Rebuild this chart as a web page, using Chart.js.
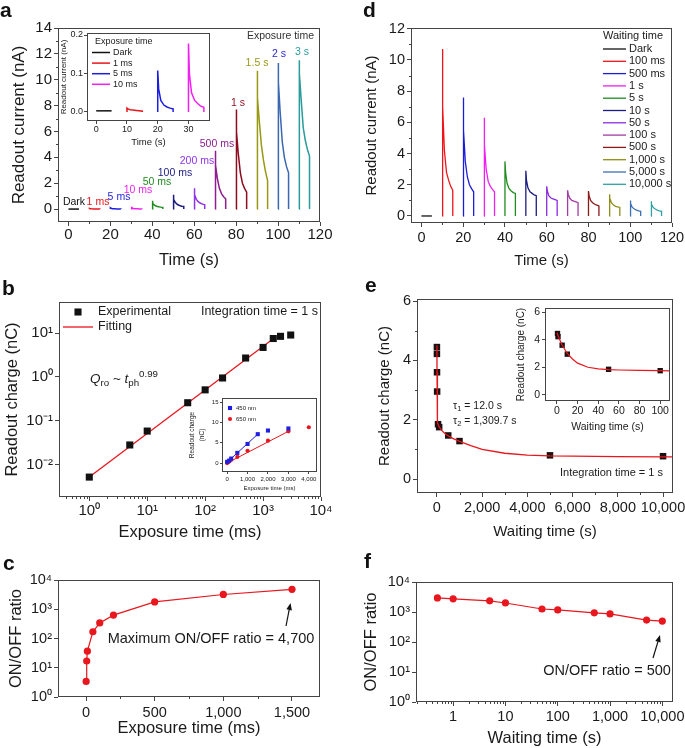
<!DOCTYPE html>
<html>
<head>
<meta charset="utf-8">
<title>Readout current, readout charge and ON/OFF ratio</title>
<script src="https://cdn.jsdelivr.net/npm/chart.js@4.4.1/dist/chart.umd.min.js"></script>
<style>
  html, body { margin: 0; padding: 0; background: #fff; }
  body { position: relative; width: 685px; height: 748px; overflow: hidden; font-family: 'Liberation Sans', Arial, sans-serif; }
  canvas { position: absolute; }
  .tag { position: absolute; z-index: 5; font-weight: bold; font-size: 21px; line-height: 21px; color: #111; }
</style>
</head>
<body>
<canvas id="chartA"></canvas>
<canvas id="chartD"></canvas>
<canvas id="chartB"></canvas>
<canvas id="chartE"></canvas>
<canvas id="chartC"></canvas>
<canvas id="chartF"></canvas>
<canvas id="insetA"></canvas>
<canvas id="insetB"></canvas>
<canvas id="insetE"></canvas>
<div class="tag" style="left:0px;top:-1px">a</div>
<div class="tag" style="left:363px;top:-1px">d</div>
<div class="tag" style="left:2px;top:277px">b</div>
<div class="tag" style="left:365px;top:274px">e</div>
<div class="tag" style="left:3px;top:552px">c</div>
<div class="tag" style="left:364px;top:550px">f</div>
<script>
const FONT = "'Liberation Sans', Arial, Helvetica, sans-serif";

// ---------- data ----------
// every current pulse is sampled at these times after its start (s)
const pulseT = [0, 0, 0.3, 1, 2, 3, 4, 5, 5];

// a: readout current (nA), different exposure times
const aNames = ['Dark', '1 ms', '5 ms', '10 ms', '50 ms', '100 ms', '200 ms', '500 ms', '1 s', '1.5 s', '2 s', '3 s'];
const aStart = [0, 10, 20, 30, 40, 50, 60, 70, 80, 90, 100, 110];
const aCurrent = [
  [0, 0, 0, 0, 0, 0, 0, 0, 0],
  [0, 0.05, 0.03, 0.02, 0.01, 0.01, 0.01, 0.01, 0],
  [0, 0.1, 0.06, 0.03, 0.02, 0.01, 0.01, 0.01, 0],
  [0, 0.18, 0.1, 0.05, 0.03, 0.02, 0.01, 0.01, 0],
  [0, 0.65, 0.45, 0.3, 0.22, 0.18, 0.15, 0.13, 0],
  [0, 1.1, 0.75, 0.5, 0.35, 0.28, 0.22, 0.2, 0],
  [0, 1.6, 1.1, 0.75, 0.55, 0.45, 0.38, 0.33, 0],
  [0, 4.5, 3.4, 2.4, 1.6, 1.2, 0.95, 0.8, 0],
  [0, 7.7, 6.0, 4.3, 2.8, 2.0, 1.6, 1.3, 0],
  [0, 10.7, 8.6, 6.9, 5.0, 3.8, 2.9, 2.2, 0],
  [0, 11.3, 9.8, 7.5, 5.2, 4.0, 3.3, 2.8, 0],
  [0, 11.5, 10.5, 8.5, 6.3, 5.3, 4.6, 4.1, 0]
];
const aXTicks = [0, 20, 40, 60, 80, 100, 120];
const aYTicks = [0, 2, 4, 6, 8, 10, 12, 14];

// a inset: the four weakest pulses
const aiNames = ['Dark', '1 ms', '5 ms', '10 ms'];
const aiStart = [0, 10, 20, 30];
const aiCurrent = [
  [0.003, 0.003, 0.003, 0.003, 0.003, 0.003, 0.003, 0.003, 0.003],
  [0, 0.01, 0.008, 0.006, 0.005, 0.004, 0.003, 0.002, 0],
  [0, 0.108, 0.06, 0.03, 0.018, 0.013, 0.01, 0.008, 0],
  [0, 0.178, 0.1, 0.05, 0.03, 0.022, 0.015, 0.012, 0]
];
const aiXTicks = [0, 10, 20, 30];
const aiYTicks = [0, 0.1, 0.2];
const aiYLabels = ['0.0', '0.1', '0.2'];

// d: readout current (nA), different waiting times
const dNames = ['Dark', '100 ms', '500 ms', '1 s', '5 s', '10 s', '50 s', '100 s', '500 s', '1,000 s', '5,000 s', '10,000 s'];
const dStart = [0, 10, 20, 30, 40, 50, 60, 70, 80, 90, 100, 110];
const dCurrent = [
  [0, 0, 0, 0, 0, 0, 0, 0, 0],
  [0, 10.7, 7.0, 4.2, 2.8, 2.3, 1.9, 1.65, 0],
  [0, 7.6, 5.5, 3.5, 2.5, 2.0, 1.75, 1.55, 0],
  [0, 6.3, 4.6, 3.0, 2.2, 1.9, 1.7, 1.55, 0],
  [0, 3.5, 2.8, 2.1, 1.75, 1.6, 1.5, 1.45, 0],
  [0, 2.9, 2.3, 1.8, 1.55, 1.45, 1.35, 1.3, 0],
  [0, 1.9, 1.6, 1.3, 1.15, 1.1, 1.05, 1.0, 0],
  [0, 1.65, 1.4, 1.15, 1.0, 0.95, 0.9, 0.85, 0],
  [0, 1.6, 1.3, 1.0, 0.85, 0.75, 0.7, 0.65, 0],
  [0, 1.4, 1.15, 0.85, 0.7, 0.62, 0.58, 0.55, 0],
  [0, 1.0, 0.8, 0.55, 0.45, 0.38, 0.33, 0.3, 0],
  [0, 0.95, 0.75, 0.55, 0.45, 0.37, 0.32, 0.3, 0]
];
const dYTicks = [0, 2, 4, 6, 8, 10, 12];

// b: readout charge (nC) vs exposure time (ms)
const bExposure = [1, 5, 10, 50, 100, 200, 500, 1000, 1500, 2000, 3000];
const bCharge = [0.0053, 0.0285, 0.059, 0.26, 0.51, 0.95, 2.7, 4.7, 7.5, 8.4, 9.0];
const bFitX = [1, 1500];
const bFitY = [0.0053, 7.4];
const bXTicks = [1, 10, 100, 1000, 10000];
const bXLabels = ['10⁰', '10¹', '10²', '10³', '10⁴'];
const bYTicks = [0.01, 0.1, 1, 10];
const bYLabels = ['10⁻²', '10⁻¹', '10⁰', '10¹'];

// b inset: two wavelengths
const b450X = [0, 100, 200, 500, 1000, 1500, 2000, 3000];
const b450Y = [0.3, 0.6, 1.1, 2.5, 4.7, 7.1, 8.0, 8.5];
const b450FitX = [0, 1500];
const b450FitY = [0.2, 7.1];
const b650X = [0, 50, 100, 200, 500, 1000, 2000, 3000, 4000];
const b650Y = [0, 0.2, 0.4, 0.8, 1.5, 3.0, 5.5, 7.8, 8.8];
const b650FitX = [0, 3000];
const b650FitY = [0, 7.8];
const biXTicks = [0, 1000, 2000, 3000, 4000];
const biXLabels = ['0', '1,000', '2,000', '3,000', '4,000'];
const biYTicks = [0, 5, 10, 15];

// e: readout charge (nC) vs waiting time (s)
const eWait = [0.5, 1, 5, 10, 50, 100, 500, 1000, 5000, 10000];
const eCharge = [4.45, 4.22, 3.6, 2.95, 1.85, 1.75, 1.47, 1.28, 0.8, 0.77];
const eFitX = [0, 5, 10, 20, 40, 70, 100, 200, 400, 700, 1000, 1500, 2000, 3000, 4000, 5000, 6000, 8000, 10000, 10500];
const eFitY = [4.5, 3.6, 3.0, 2.3, 1.9, 1.8, 1.76, 1.65, 1.5, 1.37, 1.27, 1.13, 1.0, 0.87, 0.81, 0.78, 0.77, 0.755, 0.75, 0.75];
const eXTicks = [0, 2000, 4000, 6000, 8000, 10000];
const eXLabels = ['0', '2,000', '4,000', '6,000', '8,000', '10,000'];
const eYTicks = [0, 2, 4, 6];
const eiWait = [0.5, 1, 5, 10, 50, 100];
const eiCharge = [4.45, 4.22, 3.6, 2.95, 1.85, 1.75];
const eiFitX = [0, 2, 5, 10, 15, 20, 30, 40, 50, 60, 80, 100, 110];
const eiFitY = [4.5, 4.1, 3.6, 3.0, 2.6, 2.3, 2.0, 1.88, 1.83, 1.8, 1.77, 1.75, 1.74];
const eiXTicks = [0, 20, 40, 60, 80, 100];

// c: ON/OFF ratio vs exposure time (ms)
const cExposure = [1, 5, 10, 50, 100, 200, 500, 1000, 1500];
const cRatio = [3.4, 17, 37, 170, 340, 630, 1780, 3200, 4800];
const cXTicks = [0, 500, 1000, 1500];
const cXLabels = ['0', '500', '1,000', '1,500'];
const ratioTicks = [1, 10, 100, 1000, 10000];
const ratioLabels = ['10⁰', '10¹', '10²', '10³', '10⁴'];

// f: ON/OFF ratio vs waiting time (s)
const fWait = [0.5, 1, 5, 10, 50, 100, 500, 1000, 5000, 10000];
const fRatio = [2950, 2750, 2350, 2000, 1260, 1170, 940, 860, 540, 500];
const fXTicks = [1, 10, 100, 1000, 10000];
const fXLabels = ['1', '10', '100', '1,000', '10,000'];

// ---------- styles ----------
const aColors = ['#111111', '#e8161b', '#1d1de0', '#f21ff2', '#1f8c1f', '#1b1b82', '#8f33e8', '#8e1d8e', '#8c0d1f', '#999914', '#3c68b2', '#2a9c9c'];
const dColors = ['#111111', '#f0141a', '#1d1dd8', '#f01ff0', '#1f8c1f', '#1b1b82', '#8a2be2', '#a23ca2', '#8c1a1a', '#8e8e14', '#3c70b2', '#2ea2a2'];
const RED = '#e8161d';

// ---------- helpers ----------
const xy = (xs, ys) => xs.map((x, i) => ({ x, y: ys[i] }));
const line = (label, xs, ys, color, w) => ({
  label, data: xy(xs, ys), showLine: true, borderColor: color, backgroundColor: color,
  borderWidth: w || 1.5, pointRadius: 0, tension: 0
});
const dots = (label, xs, ys, color, style, r) => ({
  label, data: xy(xs, ys), showLine: false, pointStyle: style, pointRadius: r,
  backgroundColor: color, borderColor: color, borderWidth: 0
});
const pulse = (label, start, vals, color, w) => line(label, pulseT.map(t => start + t), vals, color, w);

function logMinors(lo, hi) {
  const out = [];
  for (let e = -3; e <= 5; e++) for (let m = 2; m <= 9; m++) {
    const v = m * Math.pow(10, e);
    if (v > lo && v < hi) out.push(v);
  }
  return out;
}

function axis(o) {
  return {
    type: o.type || 'linear', min: o.min, max: o.max,
    afterBuildTicks: s => { s.ticks = o.ticks.map(v => ({ value: v })); },
    afterFit: s => { if (s.isHorizontal()) s.height = o.size; else s.width = o.size; },
    grid: { drawOnChartArea: false, drawTicks: true, tickLength: o.tl || 4, color: '#444', lineWidth: 1 },
    border: { display: false },
    ticks: {
      autoSkip: false, maxRotation: 0, padding: o.pad || 0, color: '#1a1a1a',
      font: { family: FONT, size: o.fs },
      callback: (v, i) => (o.labels ? o.labels[i] : String(o.ticks[i]))
    },
    title: {
      display: true, text: o.title, color: '#1a1a1a', padding: 0,
      font: { family: FONT, size: o.ts, lineHeight: o.lh || 1.2 }
    }
  };
}

function fontFor(kind, size) {
  const s = (kind === 'b' || kind === 'p') ? size * 0.72 : size;
  return (kind === 'i' ? 'italic ' : '') + s + 'px ' + FONT;
}
function drawRich(ctx, it) {
  const parts = it.parts || [[it.t, '']];
  let w = 0;
  parts.forEach(p => { ctx.font = fontFor(p[1], it.size); w += ctx.measureText(p[0]).width; });
  let x = it.x;
  if (it.align === 'center') x -= w / 2;
  else if (it.align === 'right') x -= w;
  ctx.fillStyle = it.color || '#1a1a1a';
  ctx.textBaseline = 'middle';
  ctx.textAlign = 'left';
  parts.forEach(p => {
    ctx.font = fontFor(p[1], it.size);
    const dy = p[1] === 'b' ? it.size * 0.32 : p[1] === 'p' ? -it.size * 0.38 : 0;
    ctx.fillText(p[0], x, it.y + dy);
    x += ctx.measureText(p[0]).width;
  });
}
function drawArrow(ctx, a) {
  const [x1, y1, x2, y2] = a;
  const ang = Math.atan2(y2 - y1, x2 - x1), hl = 7, hw = 2.8;
  const bx = x2 - hl * Math.cos(ang), by = y2 - hl * Math.sin(ang);
  ctx.strokeStyle = '#111'; ctx.fillStyle = '#111'; ctx.lineWidth = 1.2;
  ctx.beginPath(); ctx.moveTo(x1, y1); ctx.lineTo(bx, by); ctx.stroke();
  ctx.beginPath();
  ctx.moveTo(x2, y2);
  ctx.lineTo(bx + hw * Math.sin(ang), by - hw * Math.cos(ang));
  ctx.lineTo(bx - hw * Math.sin(ang), by + hw * Math.cos(ang));
  ctx.closePath(); ctx.fill();
}

// frame round the plot area, plus short minor ticks
const framePlugin = (minX, minY) => ({
  id: 'frame',
  afterDraw(chart) {
    const { ctx, chartArea: a, scales } = chart;
    const L = Math.round(a.left) + 0.5, T = Math.round(a.top) + 0.5;
    const R = Math.round(a.right) - 0.5, B = Math.round(a.bottom) - 0.5;
    ctx.save();
    ctx.strokeStyle = '#444'; ctx.lineWidth = 1;
    ctx.strokeRect(L, T, R - L, B - T);
    ctx.beginPath();
    (minX || []).forEach(v => {
      const p = Math.round(scales.x.getPixelForValue(v)) + 0.5;
      if (p > L && p < R) { ctx.moveTo(p, B); ctx.lineTo(p, B + 2.5); }
    });
    (minY || []).forEach(v => {
      const p = Math.round(scales.y.getPixelForValue(v)) + 0.5;
      if (p > T && p < B) { ctx.moveTo(L, p); ctx.lineTo(L - 2.5, p); }
    });
    ctx.stroke();
    ctx.restore();
  }
});

// free text and arrows, page coordinates
const notesPlugin = (box, items, arrows) => ({
  id: 'notes',
  afterDraw(chart) {
    const ctx = chart.ctx;
    ctx.save();
    ctx.translate(-box.x, -box.y);
    (items || []).forEach(it => drawRich(ctx, it));
    (arrows || []).forEach(a => drawArrow(ctx, a));
    ctx.restore();
  }
});

// legend drawn inside the plot box
const keyPlugin = (box, k) => ({
  id: 'key',
  afterDraw(chart) {
    if (!k) return;
    const ctx = chart.ctx;
    ctx.save();
    ctx.translate(-box.x, -box.y);
    ctx.textBaseline = 'middle';
    ctx.font = k.size + 'px ' + FONT;
    if (k.title) {
      ctx.fillStyle = '#1a1a1a';
      ctx.textAlign = k.titleAlign || 'left';
      ctx.fillText(k.title, k.titleX, k.titleY);
    }
    ctx.textAlign = 'left';
    k.sets.forEach((idx, n) => {
      const ds = chart.data.datasets[idx];
      const y = k.y0 + n * k.dy;
      if (ds.showLine) {
        ctx.strokeStyle = ds.borderColor; ctx.lineWidth = k.lw || ds.borderWidth;
        ctx.beginPath(); ctx.moveTo(k.x1, y); ctx.lineTo(k.x2, y); ctx.stroke();
      } else {
        ctx.fillStyle = ds.backgroundColor;
        const cx = (k.x1 + k.x2) / 2, r = ds.pointRadius;
        if (ds.pointStyle === 'rect') {
          const h = r * Math.SQRT1_2;
          ctx.fillRect(cx - h, y - h, 2 * h, 2 * h);
        } else {
          ctx.beginPath(); ctx.arc(cx, y, r, 0, Math.PI * 2); ctx.fill();
        }
      }
      ctx.fillStyle = '#1a1a1a';
      ctx.font = k.size + 'px ' + FONT;
      ctx.fillText(ds.label, k.tx, y);
    });
    ctx.restore();
  }
});

// box = canvas placement, area = wanted plot area (page px)
function panel(id, box, area, P) {
  const cv = document.getElementById(id);
  cv.width = box.w; cv.height = box.h;
  cv.style.left = box.x + 'px'; cv.style.top = box.y + 'px';
  const pl = P.yTitleX - box.x - P.y.ts * (P.y.lh || 1.2) / 2;
  const pb = box.y + box.h - P.xTitleY - P.x.ts * (P.x.lh || 1.2) / 2;
  P.x.size = box.y + box.h - pb - area.b;
  P.y.size = area.l - box.x - pl;
  return new Chart(cv, {
    type: 'scatter',
    data: { datasets: P.datasets },
    options: {
      responsive: false, animation: false, devicePixelRatio: 1, events: [],
      layout: { padding: { left: pl, top: area.t - box.y, right: box.x + box.w - area.r, bottom: pb } },
      scales: { x: axis(P.x), y: axis(P.y) },
      plugins: { legend: { display: false }, tooltip: { enabled: false } }
    },
    plugins: [framePlugin(P.minX, P.minY), notesPlugin(box, P.notes, P.arrows), keyPlugin(box, P.key)]
  });
}

// ---------- panel a ----------
const boxA = { x: 0, y: 0, w: 340, h: 276 };
const aLabelPos = [[74, 202], [98, 202], [119, 197], [138, 190], [157, 182], [175, 173], [197, 161], [217, 144], [238, 103], [257, 63], [279, 54], [302, 52]];
panel('chartA', boxA, { l: 58, t: 28, r: 320, b: 222 }, {
  datasets: aNames.map((n, i) => pulse(n, aStart[i], aCurrent[i], aColors[i], 1.5)),
  x: { min: -5, max: 120, ticks: aXTicks, fs: 15, pad: 0, title: 'Time (s)', ts: 16.5 },
  y: { min: -1, max: 14, ticks: aYTicks, fs: 15, pad: 2, title: 'Readout current (nA)', ts: 17 },
  xTitleY: 260, yTitleX: 19,
  minX: [10, 30, 50, 70, 90, 110], minY: [1, 3, 5, 7, 9, 11, 13],
  notes: aNames.map((n, i) => ({ t: n, x: aLabelPos[i][0], y: aLabelPos[i][1], size: 10.5, align: 'center', color: i === 10 ? '#2929cc' : aColors[i] }))
    .concat([{ t: 'Exposure time', x: 314, y: 36, size: 10.5, align: 'right', color: '#333' }])
});

// ---------- panel a inset ----------
const boxAi = { x: 55, y: 22, w: 165, h: 128 };
panel('insetA', boxAi, { l: 87, t: 33, r: 210, b: 121 }, {
  datasets: aiNames.map((n, i) => pulse(n, aiStart[i], aiCurrent[i], aColors[i], 1.5)),
  x: { min: -3, max: 37, ticks: aiXTicks, fs: 9, tl: 3, pad: 0, title: 'Time (s)', ts: 9.5 },
  y: { min: -0.0234, max: 0.2052, ticks: aiYTicks, labels: aiYLabels, fs: 9, tl: 3, pad: 1, title: 'Readout current (nA)', ts: 8 },
  xTitleY: 142, yTitleX: 64,
  key: { title: 'Exposure time', titleX: 95, titleY: 42, x1: 92, x2: 110, tx: 113, y0: 52.5, dy: 10.6, size: 9, sets: [0, 1, 2, 3] }
});

// ---------- panel d ----------
const boxD = { x: 340, y: 0, w: 360, h: 276 };
panel('chartD', boxD, { l: 411, t: 28, r: 672, b: 223 }, {
  datasets: dNames.map((n, i) => pulse(n, dStart[i], dCurrent[i], dColors[i], 1.3)),
  x: { min: -5, max: 120, ticks: aXTicks, fs: 14.5, pad: 2, title: 'Time (s)', ts: 15 },
  y: { min: -0.45, max: 12.05, ticks: dYTicks, fs: 14.5, pad: 2, title: 'Readout current (nA)', ts: 15 },
  xTitleY: 261, yTitleX: 372,
  minX: [10, 30, 50, 70, 90, 110], minY: [1, 3, 5, 7, 9, 11],
  key: { title: 'Waiting time', titleAlign: 'center', titleX: 633, titleY: 36, x1: 603, x2: 626, tx: 629, y0: 49, dy: 12.3, size: 11, lw: 1.3, sets: dNames.map((n, i) => i) }
});

// ---------- panel b ----------
const boxB = { x: 0, y: 265, w: 340, h: 275 };
panel('chartB', boxB, { l: 59, t: 302, r: 321, b: 497 }, {
  datasets: [
    dots('Experimental', bExposure, bCharge, '#111', 'rect', 5),
    line('Fitting', bFitX, bFitY, RED, 1.3)
  ],
  x: { type: 'logarithmic', min: 0.304, max: 10000, ticks: bXTicks, labels: bXLabels, fs: 15, pad: 1, title: 'Exposure time (ms)', ts: 16.5 },
  y: { type: 'logarithmic', min: 0.00187, max: 50.7, ticks: bYTicks, labels: bYLabels, fs: 15, pad: 2, title: 'Readout charge (nC)', ts: 16.5 },
  xTitleY: 532, yTitleX: 12,
  minX: logMinors(0.304, 10000),
  notes: [
    { t: 'Integration time = 1 s', x: 318, y: 312, size: 12.5, align: 'right' },
    { parts: [['Q', 'i'], ['ro', 'b'], [' ~ ', ''], ['t', 'i'], ['ph', 'b'], ['0.99', 'p']], x: 90, y: 379, size: 13.5 }
  ],
  key: { x1: 63, x2: 93, tx: 98, y0: 312, dy: 15, size: 12.5, sets: [0, 1] }
});

// ---------- panel b inset ----------
const boxBi = { x: 180, y: 388, w: 142, h: 110 };
panel('insetB', boxBi, { l: 222, t: 398, r: 317, b: 472 }, {
  datasets: [
    dots('450 nm', b450X, b450Y, '#1f1fe0', 'rect', 2.9),
    dots('650 nm', b650X, b650Y, RED, 'circle', 2.1),
    line('450 fit', b450FitX, b450FitY, '#1f1fe0', 1),
    line('650 fit', b650FitX, b650FitY, RED, 1)
  ],
  x: { min: -250, max: 4400, ticks: biXTicks, labels: biXLabels, fs: 6, tl: 2, pad: 1.5, title: 'Exposure time (ms)', ts: 6 },
  y: { min: -2.2, max: 16, ticks: biYTicks, fs: 6, tl: 2, pad: 1.5, title: ['Readout charge', '(nC)'], ts: 6.5, lh: 1.6 },
  xTitleY: 488, yTitleX: 192,
  key: { x1: 227, x2: 233, tx: 236, y0: 408, dy: 11, size: 6, sets: [0, 1] }
});

// ---------- panel e ----------
const boxE = { x: 340, y: 265, w: 360, h: 275 };
panel('chartE', boxE, { l: 417, t: 299, r: 673, b: 493 }, {
  datasets: [
    line('Fitting', eFitX, eFitY, RED, 1.3),
    dots('Experimental', eWait, eCharge, '#1a1010', 'rect', 4.6)
  ],
  x: { min: -880, max: 10440, ticks: eXTicks, labels: eXLabels, fs: 14.5, pad: 2, title: 'Waiting time (s)', ts: 15 },
  y: { min: -0.47, max: 6.07, ticks: eYTicks, fs: 14.5, pad: 2, title: 'Readout charge (nC)', ts: 15 },
  xTitleY: 532, yTitleX: 385,
  minX: [1000, 3000, 5000, 7000, 9000], minY: [1, 3, 5],
  notes: [
    { parts: [['τ', ''], ['1', 'b'], [' = 12.0 s', '']], x: 453, y: 406, size: 10.5 },
    { parts: [['τ', ''], ['2', 'b'], [' = 1,309.7 s', '']], x: 453, y: 421, size: 10.5 },
    { t: 'Integration time = 1 s', x: 560, y: 473, size: 11 }
  ]
});

// ---------- panel e inset ----------
const boxEi = { x: 508, y: 296, w: 167, h: 142 };
panel('insetE', boxEi, { l: 545, t: 308, r: 670, b: 401 }, {
  datasets: [
    line('Fitting', eiFitX, eiFitY, RED, 1.2),
    dots('Experimental', eiWait, eiCharge, '#1a1010', 'rect', 3.8)
  ],
  x: { min: -11.6, max: 109.5, ticks: eiXTicks, fs: 10.5, tl: 3, pad: 1, title: 'Waiting time (s)', ts: 10.5 },
  y: { min: -0.45, max: 6.3, ticks: eYTicks, fs: 10.5, tl: 3, pad: 2, title: 'Readout charge (nC)', ts: 10 },
  xTitleY: 427, yTitleX: 521
});

// ---------- panel c ----------
const boxC = { x: 0, y: 540, w: 340, h: 208 };
panel('chartC', boxC, { l: 58, t: 580, r: 320, b: 697 }, {
  datasets: [Object.assign(line('ON/OFF', cExposure, cRatio, RED, 1.2), { pointRadius: 3.6, pointBackgroundColor: RED, pointBorderWidth: 0 })],
  x: { min: -204, max: 1704, ticks: cXTicks, labels: cXLabels, fs: 14.5, pad: 3, title: 'Exposure time (ms)', ts: 16.5 },
  y: { type: 'logarithmic', min: 1, max: 10000, ticks: ratioTicks, labels: ratioLabels, fs: 14.5, pad: 2, title: 'ON/OFF ratio', ts: 16.5 },
  xTitleY: 728, yTitleX: 16,
  minX: [250, 750, 1250],
  notes: [{ t: 'Maximum ON/OFF ratio = 4,700', x: 211, y: 639, size: 14.5, align: 'center' }],
  arrows: [[286, 626, 290.5, 603]]
});

// ---------- panel f ----------
const boxF = { x: 340, y: 540, w: 360, h: 208 };
panel('chartF', boxF, { l: 416, t: 582, r: 673, b: 702 }, {
  datasets: [Object.assign(line('ON/OFF', fWait, fRatio, RED, 1.2), { pointRadius: 3.6, pointBackgroundColor: RED, pointBorderWidth: 0 })],
  x: { type: 'logarithmic', min: 0.195, max: 16000, ticks: fXTicks, labels: fXLabels, fs: 14.5, pad: 2, title: 'Waiting time (s)', ts: 16.5 },
  y: { type: 'logarithmic', min: 1, max: 10000, ticks: ratioTicks, labels: ratioLabels, fs: 14.5, pad: 2, title: 'ON/OFF ratio', ts: 16.5 },
  xTitleY: 738, yTitleX: 371,
  minX: logMinors(0.195, 16000),
  notes: [{ t: 'ON/OFF ratio = 500', x: 607, y: 671, size: 14.5, align: 'center' }],
  arrows: [[653, 658, 660, 635]]
});
</script>
</body>
</html>
